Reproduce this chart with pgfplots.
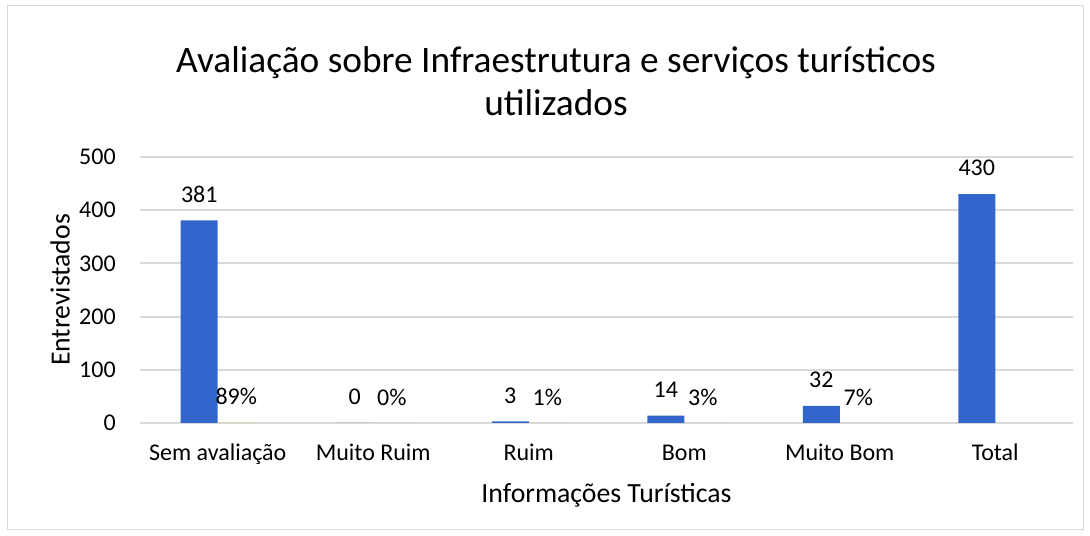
\documentclass[border=0pt]{standalone}
\usepackage{pgfplots}
\pgfplotsset{compat=1.18}
\usepackage{fontspec}
\setmainfont{Carlito}
\definecolor{barblue}{RGB}{51,102,204}
\definecolor{bartan}{RGB}{237,206,150}
\definecolor{gridgray}{RGB}{217,217,217}
\begin{document}
\begin{tikzpicture}[x=0.75pt,y=0.75pt]
\useasboundingbox (0,0) rectangle (1090,536);
\draw[gridgray, line width=0.75pt] (7,6) rectangle (1083,530);
\begin{axis}[
  at={(105pt,84.75pt)}, anchor=south west,
  scale only axis, width=699.75pt, height=199.5pt,
  xmin=-0.5, xmax=5.5, ymin=0, ymax=500,
  ybar=0pt, bar width=27.75pt,
  axis line style={draw=none},
  ymajorgrids, major grid style={gridgray, line width=1.4pt},
  ytick={0,100,...,500},
  xtick={0,...,5},
  xticklabels={Sem avaliação, Muito Ruim, Ruim, Bom, Muito Bom, Total},
  major tick length=0pt,
  tick label style={font=\fontsize{18}{21}\selectfont},
  /pgf/number format/assume math mode=true,
  yticklabel style={anchor=east, inner sep=0pt, xshift=-18pt},
  xticklabel style={anchor=base, inner sep=0pt, yshift=-27.75pt},
  xlabel={Informações Turísticas},
  ylabel={Entrevistados},
  label style={font=\fontsize{20.8}{24}\selectfont},
  xlabel style={at={(rel axis cs:0.5,0)}, anchor=center, yshift=-54pt},
  ylabel style={at={(rel axis cs:0,0.5)}, anchor=center, rotate=0, yshift=60pt},
  nodes near coords,
  nodes near coords style={font=\fontsize{18}{21}\selectfont, anchor=center, inner sep=0pt, yshift=19.5pt, text=black},
  clip=false,
]
\addplot[fill=barblue, draw=none] coordinates {(0,381) (1,0) (2,3) (3,14) (4,32) (5,430)};
\addplot[fill=bartan, draw=none, point meta=explicit symbolic] coordinates {
  (0,0.89) [89\%] (1,0) [0\%] (2,0.01) [1\%] (3,0.03) [3\%] (4,0.07) [7\%]};
\end{axis}
\node[align=center, font=\fontsize{28}{32.25}\selectfont] at (556,455)
  {Avaliação sobre Infraestrutura e serviços turísticos\\utilizados};
\end{tikzpicture}
\end{document}
